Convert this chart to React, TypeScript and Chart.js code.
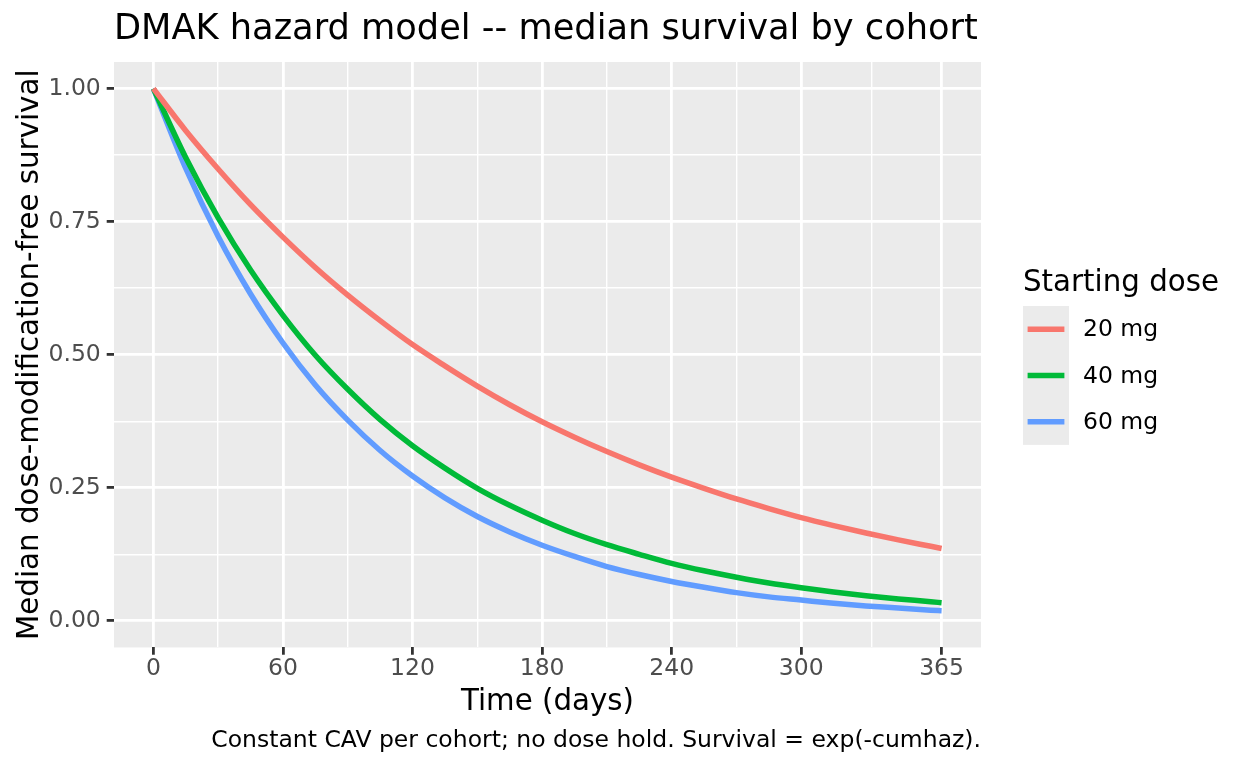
import React, { useEffect, useRef } from "react";
import { Chart, registerables } from "chart.js";

Chart.register(...registerables);

// ---- data ----
const days = [0, 15, 30, 45, 60, 75, 90, 105, 120, 135, 150, 165, 180, 195, 210, 225, 240, 255, 270, 285, 300, 315, 330, 345, 360, 365];
const dose20 = [1.0, 0.921, 0.849, 0.782, 0.721, 0.664, 0.612, 0.564, 0.519, 0.479, 0.441, 0.406, 0.374, 0.345, 0.318, 0.293, 0.27, 0.249, 0.229, 0.211, 0.194, 0.179, 0.165, 0.152, 0.14, 0.136];
const dose40 = [1.0, 0.87, 0.757, 0.659, 0.574, 0.499, 0.435, 0.378, 0.329, 0.287, 0.249, 0.217, 0.189, 0.164, 0.143, 0.125, 0.108, 0.094, 0.082, 0.071, 0.062, 0.054, 0.047, 0.041, 0.036, 0.034];
const dose60 = [1.0, 0.85, 0.722, 0.614, 0.522, 0.443, 0.377, 0.32, 0.272, 0.231, 0.196, 0.167, 0.142, 0.121, 0.102, 0.087, 0.074, 0.063, 0.053, 0.045, 0.039, 0.033, 0.028, 0.024, 0.02, 0.019];
const seriesLabels = ["20 mg", "40 mg", "60 mg"];
const seriesColors = ["#F8766D", "#00BA38", "#619CFF"];

const xMajorTicks = [0, 60, 120, 180, 240, 300, 365];
const xMinorTicks = [30, 90, 150, 210, 270, 332.5];
const yMajorTicks = [0, 0.25, 0.5, 0.75, 1];
const yMinorTicks = [0.125, 0.375, 0.625, 0.875];

const titleText = "DMAK hazard model -- median survival by cohort";
const captionText = "Constant CAV per cohort; no dose hold. Survival = exp(-cumhaz).";
const xTitleText = "Time (days)";
const yTitleText = "Median dose-modification-free survival";
const legendTitleText = "Starting dose";

const FONT = "'DejaVu Sans', 'Noto Sans', sans-serif";

const panelBg = {
  id: "panelBg",
  beforeDraw(chart: any) {
    const { ctx, chartArea } = chart;
    ctx.save();
    ctx.fillStyle = "#FFFFFF";
    ctx.fillRect(0, 0, chart.width, chart.height);
    ctx.fillStyle = "#EBEBEB";
    ctx.fillRect(chartArea.left, chartArea.top, chartArea.right - chartArea.left, chartArea.bottom - chartArea.top);
    ctx.restore();
  },
};

const ggLegend = {
  id: "ggLegend",
  afterDraw(chart: any) {
    const { ctx, chartArea } = chart;
    const left = chartArea.right + 42;
    const keyTop = 306;
    const keyH = 46.3;
    const keyW = 46;
    ctx.save();
    ctx.fillStyle = "#000000";
    ctx.font = `29.3px ${FONT}`;
    ctx.textAlign = "left";
    ctx.textBaseline = "middle";
    ctx.fillText(legendTitleText, left, 283);
    ctx.fillStyle = "#EBEBEB";
    ctx.fillRect(left, keyTop, keyW, keyH * seriesLabels.length);
    seriesLabels.forEach((lab, i) => {
      const cy = keyTop + keyH * i + keyH / 2;
      ctx.strokeStyle = seriesColors[i];
      ctx.lineWidth = 5.5;
      ctx.lineCap = "butt";
      ctx.beginPath();
      ctx.moveTo(left + 4.6, cy);
      ctx.lineTo(left + keyW - 4.6, cy);
      ctx.stroke();
      ctx.fillStyle = "#000000";
      ctx.font = `23.5px ${FONT}`;
      ctx.fillText(lab, left + 60, cy + 1);
    });
    ctx.restore();
  },
};

export default function App() {
  const ref = useRef<HTMLCanvasElement | null>(null);

  useEffect(() => {
    if (!ref.current) return;
    const series = [dose20, dose40, dose60];
    const chart = new Chart(ref.current, {
      type: "line",
      data: {
        datasets: series.map((vals, i) => ({
          label: seriesLabels[i],
          data: days.map((d, j) => ({ x: d, y: vals[j] })),
          borderColor: seriesColors[i],
          backgroundColor: seriesColors[i],
          borderWidth: 5.5,
          borderCapStyle: "butt",
          borderJoinStyle: "round",
          pointRadius: 0,
          cubicInterpolationMode: "monotone",
          fill: false,
        })),
      },
      options: {
        responsive: false,
        animation: false,
        events: [],
        devicePixelRatio: 1,
        layout: { padding: { left: 0, right: 267, top: 0, bottom: 0 } },
        plugins: {
          legend: { display: false },
          tooltip: { enabled: false },
          title: {
            display: true,
            text: titleText,
            align: "start",
            fullSize: false,
            color: "#000000",
            font: { family: FONT, size: 35.2, weight: "normal", lineHeight: 1.2 },
            padding: { top: 8.9, bottom: 10.86 },
          },
          subtitle: {
            display: true,
            text: captionText,
            position: "bottom",
            align: "end",
            fullSize: false,
            color: "#000000",
            font: { family: FONT, size: 23.5, weight: "normal", lineHeight: 1.2 },
            padding: { top: 6.5, bottom: 13.2 },
          },
        },
        scales: {
          x: {
            type: "linear",
            min: -18.25,
            max: 383.25,
            afterBuildTicks: (scale: any) => {
              scale.ticks = [...xMajorTicks, ...xMinorTicks].sort((a, b) => a - b).map((v) => ({ value: v }));
            },
            ticks: {
              autoSkip: false,
              maxRotation: 0,
              minRotation: 0,
              padding: 0.5,
              color: "#4D4D4D",
              font: { family: FONT, size: 23.5, lineHeight: 1.2 },
              callback: (v: any) => (xMajorTicks.includes(Number(v)) ? String(v) : ""),
            },
            grid: {
              color: "#FFFFFF",
              lineWidth: (c: any) => (xMajorTicks.includes(c.tick?.value) ? 2.8 : 1.4),
              drawTicks: true,
              tickLength: 7.3,
              tickWidth: 2.8,
              tickColor: (c: any) => (xMajorTicks.includes(c.tick?.value) ? "#333333" : "rgba(0,0,0,0)"),
            },
            border: { display: false },
            title: {
              display: true,
              text: xTitleText,
              color: "#000000",
              font: { family: FONT, size: 29.3, lineHeight: 1.2 },
              padding: { top: 1, bottom: 0 },
            },
          },
          y: {
            type: "linear",
            min: -0.05,
            max: 1.05,
            afterBuildTicks: (scale: any) => {
              scale.ticks = [...yMajorTicks, ...yMinorTicks].sort((a, b) => a - b).map((v) => ({ value: v }));
            },
            afterFit: (scale: any) => {
              scale.width = 114;
            },
            ticks: {
              autoSkip: false,
              padding: 5.9,
              color: "#4D4D4D",
              font: { family: FONT, size: 23.5, lineHeight: 1.2 },
              callback: (v: any) => (yMajorTicks.includes(Number(v)) ? Number(v).toFixed(2) : ""),
            },
            grid: {
              color: "#FFFFFF",
              lineWidth: (c: any) => (yMajorTicks.includes(c.tick?.value) ? 2.8 : 1.4),
              drawTicks: true,
              tickLength: 7.3,
              tickWidth: 2.8,
              tickColor: (c: any) => (yMajorTicks.includes(c.tick?.value) ? "#333333" : "rgba(0,0,0,0)"),
            },
            border: { display: false },
            title: {
              display: true,
              text: yTitleText,
              color: "#000000",
              font: { family: FONT, size: 29.3, lineHeight: 1.2 },
              padding: { top: 12.4, bottom: 0 },
            },
          },
        },
      },
      plugins: [panelBg, ggLegend],
    } as any);
    return () => chart.destroy();
  }, []);

  return (
    <div style={{ position: "fixed", left: 0, top: 0, width: 1248, height: 768 }}>
      <canvas ref={ref} width={1248} height={768} style={{ width: 1248, height: 768, display: "block" }} />
    </div>
  );
}
